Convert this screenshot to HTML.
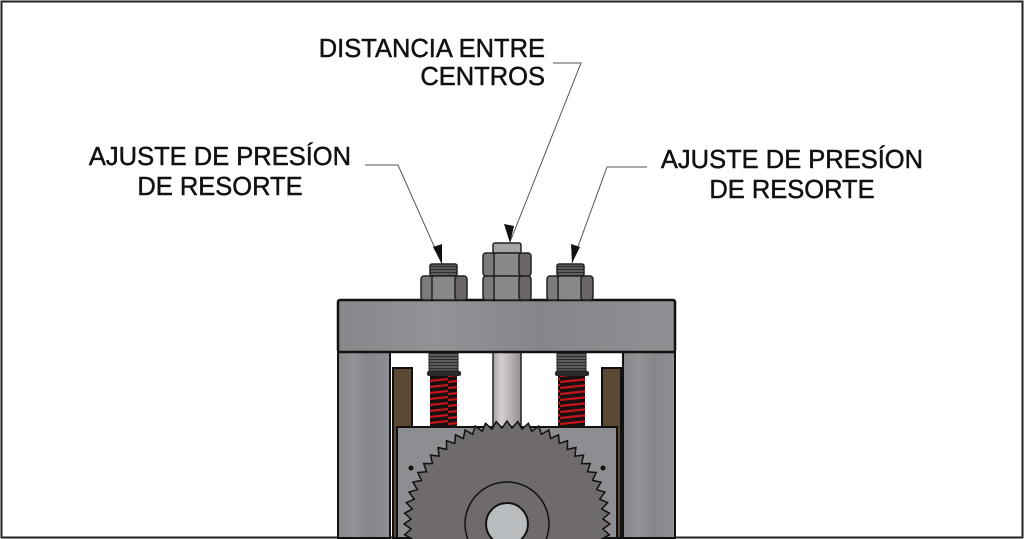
<!DOCTYPE html>
<html><head><meta charset="utf-8"><style>
html,body{margin:0;padding:0;background:#fff;width:1024px;height:539px;overflow:hidden}
svg{display:block}
text{font-family:"Liberation Sans",Arial,sans-serif;font-size:25.5px;fill:#111;stroke:#111;stroke-width:0.45}
</style></head><body>
<svg id="s" width="1024" height="539" viewBox="0 0 1024 539" xmlns="http://www.w3.org/2000/svg">
<defs>
<linearGradient id="bar" x1="0" x2="1" y1="0" y2="0">
<stop offset="0" stop-color="#85878a"/><stop offset=".3" stop-color="#919396"/><stop offset=".6" stop-color="#84868a"/><stop offset="1" stop-color="#8e9093"/></linearGradient>
<linearGradient id="rod" x1="0" x2="1"><stop offset="0" stop-color="#a9a4a4"/><stop offset=".3" stop-color="#d4d0d0"/><stop offset=".7" stop-color="#b0aaaa"/><stop offset="1" stop-color="#938d90"/></linearGradient>
<pattern id="spr" width="28" height="6" patternUnits="userSpaceOnUse">
<rect width="28" height="6" fill="#1a1010"/><path d="M0 4 L28 1" stroke="#c0161c" stroke-width="2.2"/></pattern>
<pattern id="thr" width="30" height="3" patternUnits="userSpaceOnUse">
<rect width="30" height="3" fill="#5c5c5e"/><rect y="2" width="30" height="1" fill="#2e2e30"/></pattern>
<clipPath id="cp"><rect width="1024" height="539"/></clipPath>
</defs>
<g clip-path="url(#cp)">
<rect x="1.5" y="1.5" width="1021" height="536" fill="#fff" stroke="#222" stroke-width="2"/>

<text x="545" y="57" text-anchor="end">DISTANCIA ENTRE</text>
<text x="545" y="85" text-anchor="end">CENTROS</text>
<text x="220" y="165" text-anchor="middle">AJUSTE DE PRESÍON</text>
<text x="220" y="195" text-anchor="middle">DE RESORTE</text>
<text x="792" y="168" text-anchor="middle">AJUSTE DE PRESÍON</text>
<text x="792" y="198" text-anchor="middle">DE RESORTE</text>

<g stroke="#555" stroke-width="1" fill="none">
<polyline points="553,63 581,63 510,242"/>
<polyline points="365,165 398,165 442,264"/>
<polyline points="647,167 607,167 572,263"/>
</g>
<g fill="#111">
<polygon points="510,243 504,224 514,226"/>
<polygon points="442,264 433,247 442,244"/>
<polygon points="572,263 571,244 580,247"/>
</g>

<rect x="338" y="352" width="52" height="186" fill="url(#bar)" stroke="#111" stroke-width="2"/>
<rect x="623" y="352" width="52" height="186" fill="url(#bar)" stroke="#111" stroke-width="2"/>
<rect x="393" y="368" width="19" height="170" fill="#5a4a35" stroke="#111" stroke-width="2"/>
<rect x="602" y="368" width="19" height="170" fill="#5a4a35" stroke="#111" stroke-width="2"/>
<rect x="493" y="350" width="28" height="80" fill="url(#rod)" stroke="#222" stroke-width="1.5"/>
<rect x="429" y="353" width="29" height="18" fill="url(#thr)" stroke="#222"/>
<rect x="427" y="371" width="34" height="5" rx="2" fill="#2a2a2a"/>
<rect x="430" y="376" width="27" height="52" fill="url(#spr)"/>
<rect x="557" y="353" width="29" height="18" fill="url(#thr)" stroke="#222"/>
<rect x="555" y="371" width="34" height="5" rx="2" fill="#2a2a2a"/>
<rect x="558" y="376" width="27" height="52" fill="url(#spr)"/>
<rect x="397" y="427" width="220" height="111" fill="#8d8e91" stroke="#111" stroke-width="2"/>
<path id="gear" d="" fill="#6f6b6a" stroke="#111" stroke-width="1.5"/>
<circle cx="507" cy="524" r="42" fill="#6f6b6a" stroke="#111" stroke-width="1.5"/>
<circle cx="507" cy="524" r="21" fill="#b9bcbf" stroke="#111" stroke-width="2"/>
<circle cx="411" cy="468" r="2.5" fill="#111"/>
<circle cx="603" cy="468" r="2.5" fill="#111"/>

<rect x="338" y="300" width="337" height="52" rx="2" fill="url(#bar)" stroke="#111" stroke-width="2.5"/>

<g stroke="#222" stroke-width="1.5">
<rect x="430" y="264" width="27" height="12" rx="2" fill="url(#thr)"/>
<rect x="421" y="276" width="12" height="24" rx="3" fill="#7d7a7b"/>
<rect x="432" y="276" width="24" height="24" rx="2" fill="#8a8886"/>
<rect x="455" y="276" width="12" height="24" rx="3" fill="#6b6469"/>
<rect x="557" y="264" width="27" height="12" rx="2" fill="url(#thr)"/>
<rect x="547" y="276" width="12" height="24" rx="3" fill="#7d7a7b"/>
<rect x="558" y="276" width="24" height="24" rx="2" fill="#8a8886"/>
<rect x="581" y="276" width="12" height="24" rx="3" fill="#6b6469"/>
<rect x="493" y="243" width="28" height="10" rx="2" fill="#a8a4a4"/>
<rect x="483" y="253" width="12" height="23" rx="3" fill="#7d7a7b"/>
<rect x="494" y="253" width="26" height="23" rx="2" fill="#8a8886"/>
<rect x="519" y="253" width="12" height="23" rx="3" fill="#6b6469"/>
<rect x="483" y="276" width="12" height="24" rx="3" fill="#7d7a7b"/>
<rect x="494" y="276" width="26" height="24" rx="2" fill="#8a8886"/>
<rect x="519" y="276" width="12" height="24" rx="3" fill="#6b6469"/>
</g>
</g>
</svg>
<script>
(function(){
var cx=507,cy=524,ro=103,ri=96,n=60,pts=[];
for(var i=0;i<n*2;i++){var a=i/(n*2)*2*Math.PI;var r=(i%2==0)?ro:ri;pts.push((cx+r*Math.cos(a)).toFixed(1)+","+(cy+r*Math.sin(a)).toFixed(1));}
document.getElementById("gear").setAttribute("d","M"+pts.join(" L")+"Z");
})();
</script>
</body></html>
